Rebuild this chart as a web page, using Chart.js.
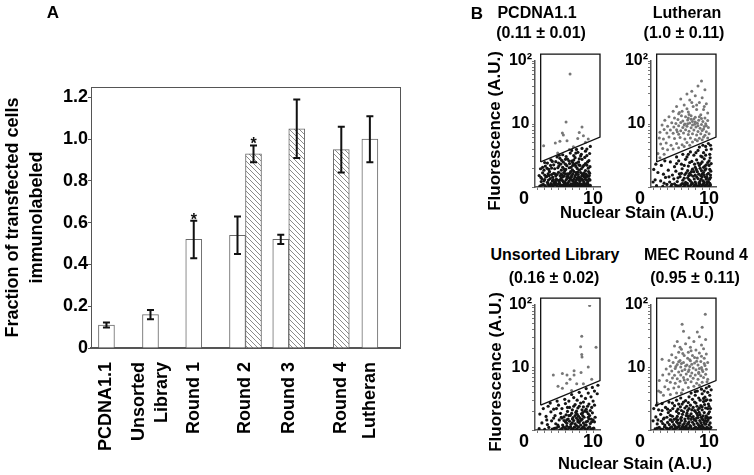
<!DOCTYPE html>
<html>
<head>
<meta charset="utf-8">
<script src="https://cdn.jsdelivr.net/npm/chart.js@4.4.0/dist/chart.umd.min.js"></script>
<style>
  body { margin: 0; background: #fff; }
  #wrap { position: relative; width: 754px; height: 475px; overflow: hidden;
          font-family: "Liberation Sans", Arial, sans-serif; font-weight: bold; color: #000; }
  canvas { position: absolute; }
  .t { position: absolute; white-space: nowrap; line-height: 1; font-size: 16px;
       transform: translate(-50%, -50%); }
  .v { transform: translate(-50%, -50%) rotate(-90deg); font-size: 17px; }
</style>
</head>
<body>
<div id="wrap">
  <canvas id="barA" width="410" height="475" style="left:0;top:0"></canvas>
  <canvas id="sPcdna" width="140" height="175" style="left:470px;top:40px"></canvas>
  <canvas id="sLutheran" width="127" height="175" style="left:600px;top:40px"></canvas>
  <canvas id="sUnsorted" width="140" height="175" style="left:470px;top:285px"></canvas>
  <canvas id="sMec" width="127" height="175" style="left:600px;top:285px"></canvas>

  <div class="t" style="left:53px;top:12px;font-size:17px">A</div>
  <div class="t" style="left:477px;top:13px;font-size:17px">B</div>

  <div class="t" style="left:537px;top:13px">PCDNA1.1</div>
  <div class="t" style="left:541px;top:33px">(0.11 ± 0.01)</div>
  <div class="t" style="left:687px;top:13px">Lutheran</div>
  <div class="t" style="left:684px;top:33px">(1.0 ± 0.11)</div>
  <div class="t" style="left:555px;top:255px">Unsorted Library</div>
  <div class="t" style="left:554px;top:278px">(0.16 ± 0.02)</div>
  <div class="t" style="left:696px;top:255px">MEC Round 4</div>
  <div class="t" style="left:695px;top:278px">(0.95 ± 0.11)</div>

  <div class="t v" style="left:494px;top:131px">Fluorescence (A.U.)</div>
  <div class="t v" style="left:495px;top:372px">Fluorescence (A.U.)</div>
  <div class="t" style="left:637px;top:212px;font-size:16.5px">Nuclear Stain (A.U.)</div>
  <div class="t" style="left:635px;top:463px;font-size:16.5px">Nuclear Stain (A.U.)</div>
</div>

<script>
// ---- panel A data ----
const categories = ['PCDNA1.1', ['Unsorted', 'Library'], 'Round 1', 'Round 2', 'Round 3', 'Round 4', 'Lutheran'];
const openValues = [0.11, 0.16, 0.52, 0.54, 0.52, null, 1.0];
const openErrors = [0.012, 0.022, 0.09, 0.09, 0.022, null, 0.11];
const hatchedValues = [null, null, null, 0.93, 1.05, 0.95, null];
const hatchedErrors = [null, null, null, 0.04, 0.14, 0.11, null];
const openStars = [false, false, true, false, false, false, false];
const hatchedStars = [false, false, false, true, false, false, false];
const yTicksA = [0, 0.2, 0.4, 0.6, 0.8, 1.0, 1.2];

// ---- panel B data (nuclear stain, fluorescence) ----
const gateX = [2.42, 2.42, 11, 11, 2.42];
const gateY = [2.5, 129, 129, 6.2, 2.5];

const pcdnaGated = [[6.67,62],[6.09,10.8],[8.4,9.0],[5.56,7.2],[5.7,6.7],[8.0,7.3],[8.6,6.5],[9.3,5.8],
  [2.85,4.5],[4.54,5.0],[5.2,5.3],[6.23,5.4],[7.15,4.35],[4.88,3.45],[7.78,5.9],[8.9,5.15],[6.57,3.95]];
const pcdnaBelow = [[2.3,1.03],[2.8,1.10],[3.2,1.01],[3.6,1.07],[3.9,1.13],[4.2,1.02],[4.5,1.09],[4.8,1.04],[5.0,1.12],
  [5.3,1.01],[5.5,1.06],[5.8,1.11],[6.0,1.03],[6.3,1.08],[6.5,1.01],[6.8,1.12],[7.0,1.05],[7.3,1.02],[7.5,1.09],
  [7.8,1.04],[8.0,1.13],[8.3,1.01],[8.5,1.07],[8.8,1.03],[9.0,1.10],[9.3,1.02],[9.6,1.06],
  [2.5,1.22],[3.0,1.31],[3.4,1.19],[3.8,1.36],[4.1,1.25],[4.4,1.18],[4.7,1.33],[5.1,1.24],[5.4,1.39],[5.7,1.21],
  [6.1,1.30],[6.4,1.17],[6.7,1.35],[7.1,1.26],[7.4,1.19],[7.7,1.38],[8.1,1.23],[8.4,1.32],[8.7,1.18],[9.1,1.28],[9.4,1.36],
  [2.2,1.52],[2.7,1.68],[3.3,1.47],[3.7,1.75],[4.0,1.58],[4.6,1.49],[5.0,1.71],[5.5,1.55],[5.9,1.80],[6.2,1.46],
  [6.6,1.64],[6.9,1.52],[7.2,1.77],[7.6,1.60],[7.9,1.45],[8.2,1.70],[8.6,1.56],[8.9,1.82],[9.2,1.50],[9.5,1.66],
  [2.4,1.95],[3.1,2.15],[3.6,1.90],[4.3,2.25],[4.9,2.02],[5.3,2.30],[5.8,1.93],[6.2,2.18],[6.8,2.05],[7.3,2.28],
  [7.7,1.97],[8.1,2.20],[8.5,2.08],[8.9,2.35],[9.3,1.99],
  [3.0,2.45],[3.9,2.70],[4.6,2.52],[5.2,2.85],[5.7,2.48],[6.3,2.78],[6.9,2.58],[7.4,2.92],[7.9,2.50],[8.4,2.75],[8.8,2.95],[9.4,2.62],
  [4.8,3.0],[5.6,3.25],[6.1,3.05],[6.7,3.45],[7.2,3.15],[7.8,3.55],[8.3,3.30],[8.9,3.70],[9.5,3.40],
  [6.9,3.8],[7.6,3.95],[8.4,4.1],[9.1,4.0],[9.6,4.4],
  [4.35,1.14],[5.15,1.16],[5.95,1.15],[6.65,1.06],[7.15,1.14],[7.65,1.15],[8.15,1.08],[8.65,1.15],[9.15,1.14],
  [5.65,1.45],[6.45,1.42],[7.35,1.44],[8.05,1.40],[8.75,1.43],[6.0,1.62],[7.0,1.88],[8.0,1.85],[5.4,1.85],
  [9.0,1.60],[6.6,2.35],[7.6,2.40],[4.0,2.0],[3.4,2.4],[2.9,1.85],[2.6,1.35],
  [2.55,1.07],[3.05,1.05],[3.45,1.12],[3.75,1.02],[4.05,1.08],[4.65,1.14],[4.95,1.01],[5.25,1.09],[5.6,1.03],
  [5.85,1.07],[6.15,1.12],[6.4,1.04],[6.75,1.02],[6.95,1.09],[7.25,1.12],[7.45,1.03],[7.7,1.07],[7.95,1.01],
  [8.25,1.11],[8.45,1.03],[8.75,1.09],[8.95,1.01],[9.25,1.12],[9.5,1.04],
  [2.9,1.25],[3.55,1.29],[4.25,1.31],[4.55,1.23],[4.9,1.28],[5.25,1.31],[5.55,1.27],[5.9,1.21],[6.25,1.37],
  [6.55,1.24],[6.9,1.29],[7.25,1.33],[7.55,1.27],[7.9,1.31],[8.25,1.36],[8.55,1.27],[8.9,1.33],[9.25,1.22],[9.55,1.29],
  [3.0,1.55],[3.5,1.62],[4.3,1.65],[4.8,1.58],[5.25,1.5],[5.75,1.68],[6.4,1.55],[6.75,1.75],[7.4,1.52],[7.75,1.72],
  [8.4,1.62],[8.75,1.5],[9.35,1.76],[6.05,1.9],[7.05,2.2],[8.3,1.95],[9.1,2.22],[5.0,2.4],[6.5,2.6],[8.0,2.8],
  [2.45,1.42],[3.15,1.44],[3.65,1.52],[4.15,1.43],[4.5,1.62],[5.35,1.62],[5.8,1.5],[6.3,1.62],[6.85,1.43],[7.05,1.62],
  [7.5,1.7],[7.85,1.58],[8.35,1.49],[8.7,1.68],[9.05,1.46],[9.45,1.52],
  [2.7,2.05],[3.35,1.98],[3.85,2.2],[4.45,1.95],[5.05,2.15],[5.6,2.05],[6.0,2.3],[6.55,2.02],[7.05,2.45],[7.5,2.12],
  [7.95,2.25],[8.65,2.2],[9.2,2.5],[9.55,2.1],
  [4.1,2.55],[5.45,2.65],[6.0,2.75],[7.2,2.68],[8.2,3.1],[9.1,3.15],[5.1,3.2],[7.5,3.45]];

const lutheranGated = [[8.9,48],[8.4,40],[7.5,33],[9.4,35],[6.8,30],[8.0,28],[9.0,26],[5.9,25],[7.2,24],[8.6,22],
  [9.6,21],[6.4,20],[5.3,19],[7.7,19],[8.2,17],[9.2,17],[4.8,16],[6.1,16],[7.0,15.5],[9.8,15],[5.6,14.5],[8.8,14],
  [4.2,13],[5.0,12.5],[6.6,13],[7.4,13.5],[8.0,12.8],[9.4,12.5],[3.6,11.5],[5.5,11.8],[6.2,11.2],[6.9,11.6],
  [7.6,11.0],[8.5,11.5],[9.1,11.0],[9.8,11.4],[4.6,10.5],[5.2,10.2],[5.9,10.6],[6.5,10.0],[7.2,10.4],[7.9,9.9],
  [8.3,10.3],[8.9,9.8],[9.5,10.1],[3.2,9.6],[4.0,9.2],[4.9,9.0],[5.6,9.4],[6.2,8.8],[6.8,9.2],[7.4,8.7],[8.1,9.0],
  [8.7,8.6],[9.3,9.1],[9.9,8.8],[3.5,8.2],[4.4,8.0],[5.3,8.1],[5.9,7.8],[6.6,8.1],[7.1,7.7],[7.8,8.0],[8.4,7.6],
  [9.0,7.9],[9.6,7.5],[2.9,7.4],[3.9,7.2],[4.8,7.1],[5.6,6.9],[6.3,7.2],[7.0,6.8],[7.6,7.0],[8.2,6.7],[8.8,7.0],
  [9.4,6.6],[10.0,7.0],
  [2.8,6.0],[3.4,5.8],[4.2,6.2],[5.0,5.9],[5.8,6.1],[6.5,5.8],[7.3,6.0],[8.0,5.7],[8.6,5.95],[9.2,6.2],[9.8,6.0],
  [3.0,4.8],[3.8,5.0],[4.5,4.6],[5.3,4.9],[6.1,4.7],[6.8,5.1],[7.6,5.2],[8.3,5.4],[9.0,5.6],[3.3,4.1],[4.0,3.9],
  [4.8,4.0],[5.6,4.2],[6.4,4.4],[7.2,4.6],[2.6,3.4],[3.5,3.3],[2.9,2.9],
  [7.8,12],[8.9,12.2],[6.0,13.5],[7.0,12.4],[8.4,9.4],[7.6,9.6],[6.9,10.1],[9.2,8.3],[8.0,10.8],[6.4,9.6],
  [5.4,7.5],[7.4,11.9],[9.6,9.4],[8.6,13],[7.1,14.2],[5.7,15.2],[6.8,17.5],[8.2,20],[9.3,19],[7.5,22]];
const lutheranBelow = [[2.4,1.05],[3.3,1.02],[3.9,1.10],[4.5,1.03],[5.0,1.12],[5.5,1.04],[5.9,1.08],[6.3,1.01],
  [6.7,1.11],[7.0,1.04],[7.4,1.09],[7.8,1.02],[8.1,1.12],[8.5,1.05],[8.8,1.01],[9.1,1.09],[9.4,1.03],[9.7,1.11],
  [10.0,1.04],[10.2,1.08],
  [2.2,1.3],[3.0,1.25],[3.7,1.42],[4.3,1.2],[4.9,1.35],[5.4,1.22],[5.8,1.46],[6.2,1.28],[6.6,1.18],[6.9,1.4],
  [7.3,1.25],[7.7,1.48],[8.0,1.2],[8.4,1.36],[8.7,1.24],[9.0,1.45],[9.3,1.19],[9.6,1.33],[9.9,1.22],[10.2,1.41],
  [2.6,1.7],[3.4,1.6],[4.1,1.85],[4.7,1.55],[5.2,1.78],[5.7,1.62],[6.1,1.95],[6.5,1.58],[6.9,1.82],[7.2,1.65],
  [7.6,1.92],[8.0,1.55],[8.3,1.75],[8.7,1.98],[9.0,1.62],[9.4,1.85],[9.7,1.58],[10.1,1.9],
  [3.1,2.2],[4.4,2.5],[5.0,2.1],[5.6,2.6],[6.0,2.3],[6.6,2.75],[7.0,2.15],[7.5,2.55],[7.9,2.3],[8.2,2.7],
  [8.6,2.2],[9.0,2.5],[9.3,2.8],[9.6,2.25],[10.0,2.6],[10.3,2.35],
  [5.3,3.0],[6.2,3.3],[6.8,3.0],[7.3,3.6],[7.8,3.2],[8.4,3.8],[8.8,3.1],[9.2,3.5],[9.6,3.9],[10.1,3.3],[10.3,4.0],
  [8.6,4.3],[9.1,4.6],[9.5,4.4],[9.9,4.9],[10.2,4.6],[2.0,1.9],[2.3,2.3],[1.9,1.2],[3.6,2.6],
  [5.2,1.06],[5.7,1.01],[6.1,1.13],[6.5,1.06],[6.85,1.14],[7.2,1.01],[7.6,1.13],[7.95,1.07],[8.3,1.03],[8.65,1.13],
  [8.95,1.06],[9.25,1.14],[9.55,1.07],[9.85,1.01],[10.1,1.14],
  [6.4,1.38],[7.1,1.31],[7.5,1.17],[7.85,1.34],[8.2,1.45],[8.55,1.17],[8.85,1.33],[9.15,1.25],[9.45,1.44],[9.75,1.21],[10.05,1.33],
  [6.7,1.68],[7.4,1.55],[7.8,1.75],[8.5,1.6],[8.9,1.82],[9.2,1.7],[9.55,1.95],[9.9,1.65],[10.25,1.78],
  [8.0,2.05],[8.8,2.35],[9.4,2.15],[9.8,2.45],[10.15,2.9],[9.0,3.0],[9.5,3.2],
  [3.5,1.15],[4.2,1.45],[4.6,1.1],[5.5,1.4],[6.0,1.65],[6.3,1.12],[7.05,1.52],[7.45,1.75],[8.15,1.9],[8.8,1.52],
  [9.25,1.55],[9.7,1.42],[10.2,1.55],[5.3,2.35],[6.4,2.2],[7.2,2.45],[8.4,2.4],[9.2,2.05],[10.0,2.2],[7.0,3.3],[8.1,3.5]];

const unsortedGated = [[9.5,98],[8.36,31.6],[8.2,21.5],[8.36,16.2],[8.4,14.7],[10.43,21],[9.3,10.2],[4.25,7.6],
  [5.56,8.0],[6.23,7.6],[7.25,8.9],[7.25,7.6],[8.26,8.3],[6.67,6.5],[6.18,5.6],[7.63,5.5],[4.93,5.0],[5.56,4.66],
  [8.6,5.5],[6.9,4.3],[9.8,6.5]];
const unsortedBelow = [[2.2,1.05],[3.0,1.02],[3.6,1.1],[4.1,1.03],[4.7,1.08],[5.2,1.01],[5.7,1.12],[6.1,1.04],
  [6.5,1.09],[6.9,1.02],[7.3,1.11],[7.7,1.05],[8.1,1.01],[8.5,1.1],[8.9,1.04],[9.3,1.08],[9.7,1.02],[10.1,1.07],
  [2.6,1.3],[3.4,1.22],[4.0,1.4],[4.6,1.26],[5.1,1.45],[5.6,1.2],[6.0,1.35],[6.4,1.5],[6.8,1.24],[7.2,1.42],
  [7.6,1.18],[8.0,1.32],[8.4,1.48],[8.8,1.21],[9.2,1.38],[9.6,1.27],[10.0,1.45],
  [2.3,1.8],[3.2,1.65],[3.9,1.95],[4.5,1.7],[5.3,1.85],[5.8,1.62],[6.3,1.98],[6.7,1.72],[7.1,1.58],[7.5,1.9],
  [7.9,1.66],[8.3,1.82],[8.7,1.6],[9.1,1.95],[9.5,1.7],[9.9,1.88],[10.3,1.6],
  [2.8,2.2],[3.5,2.4],[4.3,2.15],[5.0,2.5],[5.5,2.2],[6.0,2.65],[6.6,2.3],[7.0,2.1],[7.4,2.55],[7.8,2.25],
  [8.2,2.7],[8.6,2.35],[9.0,2.15],[9.4,2.6],[9.8,2.3],[10.2,2.5],
  [3.8,2.7],[4.8,2.9],[5.9,3.1],[6.5,2.9],[7.2,3.3],[7.7,3.0],[8.3,3.5],[8.9,3.2],[9.3,3.9],[9.7,3.4],[10.2,4.2],
  [10.6,3.8],[6.9,3.7],[8.0,4.0],[9.0,4.6],[9.9,4.8],[10.7,5.2],
  [6.2,1.15],[7.0,1.3],[7.8,1.45],[8.6,1.12],[9.4,1.5],[6.6,1.1],[7.4,1.7],[8.2,1.2],[9.0,1.35],[5.4,1.6],[8.8,2.0],[7.6,2.0],
  [4.4,1.06],[5.0,1.13],[5.45,1.05],[5.9,1.08],[6.3,1.01],[6.75,1.13],[7.1,1.05],[7.5,1.01],[7.9,1.12],[8.3,1.05],
  [8.7,1.08],[9.1,1.01],[9.5,1.12],[9.9,1.05],
  [5.8,1.42],[6.2,1.28],[6.6,1.38],[7.4,1.25],[7.8,1.35],[8.2,1.42],[8.6,1.3],[9.0,1.2],[9.8,1.35],
  [6.9,1.85],[7.7,1.78],[8.5,1.9],[9.3,1.82],[6.1,1.75],[8.0,2.4],[9.2,2.4],
  [3.3,1.45],[4.3,1.55],[4.9,1.2],[5.5,1.55],[6.2,1.45],[6.5,1.7],[7.0,1.5],[7.6,1.55],[8.1,1.55],[8.5,1.7],
  [9.3,1.6],[9.7,1.5],[10.2,1.35],[4.7,2.2],[6.3,2.3],[7.2,2.4],[8.4,2.1],[9.6,2.05],[10.0,2.9],[8.6,2.8]];

const mecGated = [[9.45,71],[6.1,49],[9.0,44],[6.3,38],[8.3,37],[7.1,30],[8.6,31],[9.5,28],[5.4,26],[7.8,26],
  [6.6,24],[8.9,23],[5.0,22],[7.3,21],[9.2,20],[6.0,19.5],[8.1,19],[5.6,17.5],[7.0,17.5],[8.6,17],[9.6,16.5],
  [4.6,16],[6.4,15.5],[7.6,15.5],[3.2,13.5],[5.2,14.5],[6.9,14],[8.3,14.2],[9.3,14],
  [4.2,13],[5.8,13],[7.3,12.8],[8.8,12.5],[9.8,12],[4.8,12],[6.3,12],[7.9,11.8],[5.4,11.2],[6.8,11],[8.4,11],
  [9.4,10.8],[4.4,10.5],[5.9,10.2],[7.2,10.4],[7.7,9.8],[8.9,10],[3.8,9.5],[5.1,9.6],[6.5,9.3],[8.1,9.2],[9.6,9.4],
  [4.6,8.8],[5.6,8.5],[6.1,8.9],[7.0,8.6],[7.5,8.2],[8.5,8.4],[9.1,8.6],[3.3,7.6],[4.2,7.9],[5.0,7.5],[5.9,7.6],
  [6.7,7.9],[7.3,7.3],[8.0,7.6],[8.8,7.4],[9.5,7.8],[4.7,6.8],[5.4,6.6],[6.3,6.9],[6.9,6.4],[7.7,6.7],[8.4,6.5],
  [9.2,6.9],[9.8,6.5],[2.8,6.2],[3.9,6.2],[4.4,5.8],[5.1,5.6],[5.8,6.0],[6.6,5.7],[7.4,5.9],[8.2,5.6],[9.0,5.8],[9.7,5.9],
  [2.7,4.2],[3.0,4.0],[3.6,4.9],[4.1,4.5],[4.9,4.7],[5.6,4.9],[6.2,4.4],[7.0,4.8],[7.8,5.0],[8.6,5.2],[3.4,3.6],
  [4.4,3.7],[5.3,3.9],[6.0,3.9],[2.5,2.7],
  [6.0,11.6],[7.5,11.3],[8.6,9.6],[7.1,9.2],[6.6,10.6],[8.2,12.6],[5.2,10.4],[9.3,11.6],[7.9,14.5],[6.2,16.8],
  [8.9,15.2],[7.4,18.5],[5.8,21],[8.5,8.0],[6.4,6.3],[7.2,13.3],[9.0,9.2],[5.6,12.4]];
const mecBelow = [[2.2,1.04],[2.8,1.1],[3.3,1.02],[3.8,1.08],[4.2,1.01],[4.6,1.12],[5.0,1.04],[5.4,1.09],[5.8,1.02],
  [6.1,1.11],[6.5,1.05],[6.8,1.01],[7.2,1.1],[7.5,1.03],[7.9,1.08],[8.2,1.01],[8.6,1.12],[8.9,1.04],[9.2,1.09],
  [9.5,1.02],[9.8,1.07],[10.1,1.03],
  [2.5,1.25],[3.1,1.38],[3.6,1.2],[4.0,1.32],[4.5,1.45],[4.9,1.22],[5.3,1.36],[5.7,1.18],[6.0,1.42],[6.4,1.27],
  [6.7,1.16],[7.1,1.35],[7.4,1.48],[7.8,1.23],[8.1,1.4],[8.5,1.19],[8.8,1.31],[9.1,1.46],[9.4,1.24],[9.7,1.37],[10.0,1.2],
  [2.3,1.62],[3.0,1.78],[3.5,1.55],[4.1,1.9],[4.7,1.66],[5.2,1.52],[5.6,1.85],[6.0,1.6],[6.3,1.96],[6.7,1.7],
  [7.0,1.54],[7.4,1.82],[7.7,1.64],[8.0,1.98],[8.4,1.58],[8.7,1.76],[9.0,1.52],[9.3,1.9],[9.6,1.68],[9.9,1.83],[10.2,1.58],
  [2.7,2.1],[3.7,2.3],[4.4,2.05],[5.0,2.45],[5.5,2.15],[6.1,2.6],[6.5,2.25],[6.9,2.05],[7.3,2.5],[7.7,2.3],
  [8.1,2.7],[8.4,2.12],[8.8,2.45],[9.2,2.85],[9.5,2.25],[9.9,2.6],[10.2,2.2],
  [3.2,2.65],[4.2,2.8],[5.3,3.0],[5.9,3.25],[6.6,2.95],[7.1,3.4],[7.6,3.1],[8.0,3.6],[8.5,3.25],[9.0,3.8],
  [9.4,3.35],[9.8,4.0],[10.1,3.6],[7.4,3.9],[8.3,4.2],[8.9,4.5],[9.6,4.7],[10.0,5.0],[10.3,4.4],
  [1.9,1.4],[2.0,2.2],[2.4,2.5],
  [5.1,1.14],[6.3,1.13],[7.0,1.28],[7.9,1.45],[8.7,1.14],[9.5,1.55],[6.8,1.86],[8.2,1.85],[5.8,1.3],[9.0,2.1],[7.5,2.1],[6.0,2.05],
  [2.5,1.07],[3.05,1.03],[3.55,1.12],[4.0,1.05],[4.4,1.09],[4.8,1.02],[5.2,1.07],[5.6,1.13],[5.95,1.05],[6.3,1.02],
  [6.65,1.1],[7.0,1.06],[7.35,1.13],[7.7,1.04],[8.05,1.11],[8.4,1.06],[8.75,1.02],[9.05,1.13],[9.35,1.05],[9.65,1.1],
  [9.95,1.01],[10.25,1.1],
  [3.3,1.27],[4.25,1.22],[4.7,1.35],[5.5,1.28],[6.2,1.2],[6.55,1.38],[6.9,1.25],[7.25,1.18],[7.6,1.33],[8.3,1.28],
  [8.65,1.42],[8.95,1.2],[9.25,1.32],[9.55,1.25],[9.85,1.45],[10.15,1.3],
  [4.4,1.72],[5.4,1.65],[6.15,1.78],[6.9,1.68],[7.55,1.6],[8.2,1.55],[8.55,1.92],[9.15,1.68],[9.75,1.58],[10.05,1.95],
  [8.6,2.25],[9.35,2.55],[9.7,3.05],[10.0,2.4],[9.2,3.2],
  [2.6,1.45],[3.4,1.5],[3.9,1.6],[4.35,1.45],[4.95,1.48],[5.45,1.45],[5.9,1.52],[6.5,1.5],[7.2,1.68],[7.85,1.5],
  [8.35,1.72],[8.85,1.6],[9.45,1.42],[9.95,1.55],
  [3.2,2.05],[4.0,2.15],[4.75,2.2],[5.3,1.98],[5.85,2.35],[6.75,2.4],[7.1,2.2],[7.9,2.05],[8.25,2.4],[9.0,2.35],[9.8,2.2],
  [4.7,2.7],[5.6,2.6],[6.3,2.8],[7.0,2.75],[7.9,2.8],[8.7,3.0],[9.5,2.95],[10.2,3.0],[9.3,4.2],[8.0,4.1]];

// ---- layout helpers ----
// where each category group sits on the x axis of panel A (axis runs 0..20)
const groupPos = [1, 3.85, 6.65, 10.0, 12.8, 16.2, 18.05];
const twoLineShift = 0.74;
const FONT = '"Liberation Sans", Arial, sans-serif';

function hatchPattern() {
    const c = document.createElement('canvas');
    c.width = 5; c.height = 5;
    const g = c.getContext('2d');
    g.fillStyle = '#fff';
    g.fillRect(0, 0, 5, 5);
    g.strokeStyle = '#8a8a8a';
    g.lineWidth = 1;
    g.beginPath();
    g.moveTo(0, 0); g.lineTo(5, 5);
    g.moveTo(-1, 4); g.lineTo(1, 6);
    g.moveTo(4, -1); g.lineTo(6, 1);
    g.stroke();
    return g.createPattern(c, 'repeat');
}

// box round the plot area of panel A
const frameBox = {
    id: 'frameBox',
    beforeDatasetsDraw(chart) {
        const a = chart.chartArea, ctx = chart.ctx;
        ctx.save();
        ctx.strokeStyle = '#555';
        ctx.lineWidth = 1;
        ctx.strokeRect(Math.round(a.left) + 0.5, Math.round(a.top) + 0.5, Math.round(a.right - a.left), Math.round(a.bottom - a.top));
        ctx.restore();
    }
};

// error bars and significance stars
const errorBars = {
    id: 'errorBars',
    afterDatasetsDraw(chart) {
        const ctx = chart.ctx;
        const y = chart.scales.y;
        chart.data.datasets.forEach((ds, di) => {
            const meta = chart.getDatasetMeta(di);
            meta.data.forEach((bar, i) => {
                const v = ds.data[i].y, e = ds.errors[i];
                if (v == null || e == null) return;
                const top = y.getPixelForValue(v + e);
                const bot = y.getPixelForValue(v - e);
                ctx.save();
                ctx.strokeStyle = '#111';
                ctx.lineWidth = 2;
                ctx.beginPath();
                ctx.moveTo(bar.x, top); ctx.lineTo(bar.x, bot);
                ctx.moveTo(bar.x - 3.5, top); ctx.lineTo(bar.x + 3.5, top);
                ctx.moveTo(bar.x - 3.5, bot); ctx.lineTo(bar.x + 3.5, bot);
                ctx.stroke();
                if (ds.stars[i]) {
                    ctx.fillStyle = '#111';
                    ctx.font = 'bold 16px ' + FONT;
                    ctx.textAlign = 'center';
                    ctx.textBaseline = 'alphabetic';
                    ctx.fillText('*', bar.x, top + 4);
                }
                ctx.restore();
            });
        });
    }
};

new Chart(document.getElementById('barA'), {
    type: 'bar',
    data: {
        datasets: [
            {
                data: groupPos.map((x, i) => ({ x: x, y: openValues[i] })),
                errors: openErrors, stars: openStars,
                backgroundColor: '#fff', borderColor: '#6a6a6a', borderWidth: 1
            },
            {
                data: groupPos.map((x, i) => ({ x: x, y: hatchedValues[i] })),
                errors: hatchedErrors, stars: hatchedStars,
                backgroundColor: hatchPattern(), borderColor: '#6a6a6a', borderWidth: 1
            }
        ]
    },
    options: {
        responsive: false,
        animation: false,
        skipNull: true,
        barThickness: 16,
        layout: { padding: { left: 0, right: 10, top: 87, bottom: 0 } },
        plugins: { legend: { display: false }, tooltip: { enabled: false } },
        scales: {
            x: {
                type: 'linear', min: 0, max: 20, offset: false,
                grid: { display: false, drawTicks: false, offset: false },
                border: { display: true, color: '#555', width: 1.5 },
                afterBuildTicks: s => {
                    s.ticks = groupPos.map((p, i) => ({ value: Array.isArray(categories[i]) ? p - twoLineShift : p }));
                },
                afterFit: s => { s.height = 127; s.paddingLeft = 0; s.paddingRight = 0; },
                ticks: {
                    autoSkip: false, minRotation: 90, maxRotation: 90, padding: 14,
                    color: '#000', font: { family: FONT, size: 18, weight: 'bold', lineHeight: 1.28 },
                    callback: (v, i) => categories[i]
                }
            },
            y: {
                min: 0, max: 1.25,
                grid: { drawOnChartArea: false, tickLength: 3, color: '#555' },
                border: { color: '#555', width: 1 },
                afterBuildTicks: s => { s.ticks = yTicksA.map(v => ({ value: v })); },
                afterFit: s => { s.width = 91; s.paddingTop = 0; s.paddingBottom = 0; },
                ticks: {
                    padding: 0, color: '#000',
                    font: { family: FONT, size: 18, weight: 'bold' },
                    callback: v => v === 0 ? '0' : v.toFixed(1)
                },
                title: {
                    display: true,
                    text: ['Fraction of transfected cells', 'immunolabeled'],
                    color: '#000',
                    padding: { top: 1, bottom: 0 },
                    font: { family: FONT, size: 18, weight: 'bold', lineHeight: 1.33 }
                }
            }
        }
    },
    plugins: [frameBox, errorBars]
});

// ---- panel B scatter plots ----
const xTicksB = [0, 1, 2, 3, 4, 5, 6, 7, 8, 9, 10];
const yTicksB = [1, 2, 3, 4, 5, 6, 7, 8, 9, 10, 20, 30, 40, 50, 60, 70, 80, 90, 100];

function scatterPlot(id, gated, below, yWidth, xHeight, padTop, padRight) {
    const pts = list => list.map(p => ({ x: p[0], y: p[1] }));
    return new Chart(document.getElementById(id), {
        type: 'scatter',
        data: {
            datasets: [
                { data: gateX.map((x, i) => ({ x: x, y: gateY[i] })), showLine: true,
                  borderColor: '#111', borderWidth: 1.3, pointRadius: 0, clip: false, order: 0 },
                { data: pts(gated), backgroundColor: '#777', pointRadius: 1.5, borderWidth: 0, order: 1 },
                { data: pts(below), backgroundColor: '#141414', pointRadius: 1.6, borderWidth: 0, order: 2 }
            ]
        },
        options: {
            responsive: false,
            animation: false,
            layout: { padding: { left: 0, right: padRight, top: padTop, bottom: 0 } },
            plugins: { legend: { display: false }, tooltip: { enabled: false } },
            scales: {
                x: {
                    type: 'linear', min: 1.6, max: 11,
                    grid: { drawOnChartArea: false, tickLength: 3,
                            color: c => (c.tick && c.tick.value < 1.6) ? 'rgba(0,0,0,0)' : '#777' },
                    border: { color: '#555', width: 1.5 },
                    afterBuildTicks: s => { s.ticks = xTicksB.map(v => ({ value: v })); },
                    afterFit: s => { s.height = xHeight; s.paddingLeft = 0; s.paddingRight = 0; },
                    ticks: {
                        autoSkip: false, maxRotation: 0, minRotation: 0, padding: 0, color: '#000',
                        font: { family: FONT, size: 18, weight: 'bold', lineHeight: 1 },
                        callback: v => (v === 0 || v === 10) ? String(v) : ''
                    }
                },
                y: {
                    type: 'logarithmic', min: 1, max: 100,
                    grid: { drawOnChartArea: false, tickLength: 3, color: '#777' },
                    border: { color: '#555', width: 1.5 },
                    afterBuildTicks: s => { s.ticks = yTicksB.map(v => ({ value: v })); },
                    afterFit: s => { s.width = yWidth; s.paddingTop = 0; s.paddingBottom = 0; },
                    ticks: {
                        autoSkip: false, padding: 0, crossAlign: 'center', color: '#000',
                        font: { family: FONT, size: 16, weight: 'bold' },
                        callback: v => v === 10 ? '10' : (v === 100 ? '10²' : '')
                    }
                }
            }
        }
    });
}

scatterPlot('sPcdna', pcdnaGated, pcdnaBelow, 65, 28, 21, 10);
scatterPlot('sLutheran', lutheranGated, lutheranBelow, 51, 28, 21, 11);
scatterPlot('sUnsorted', unsortedGated, unsortedBelow, 65, 30, 20, 10);
scatterPlot('sMec', mecGated, mecBelow, 51, 30, 20, 11);
</script>
</body>
</html>
